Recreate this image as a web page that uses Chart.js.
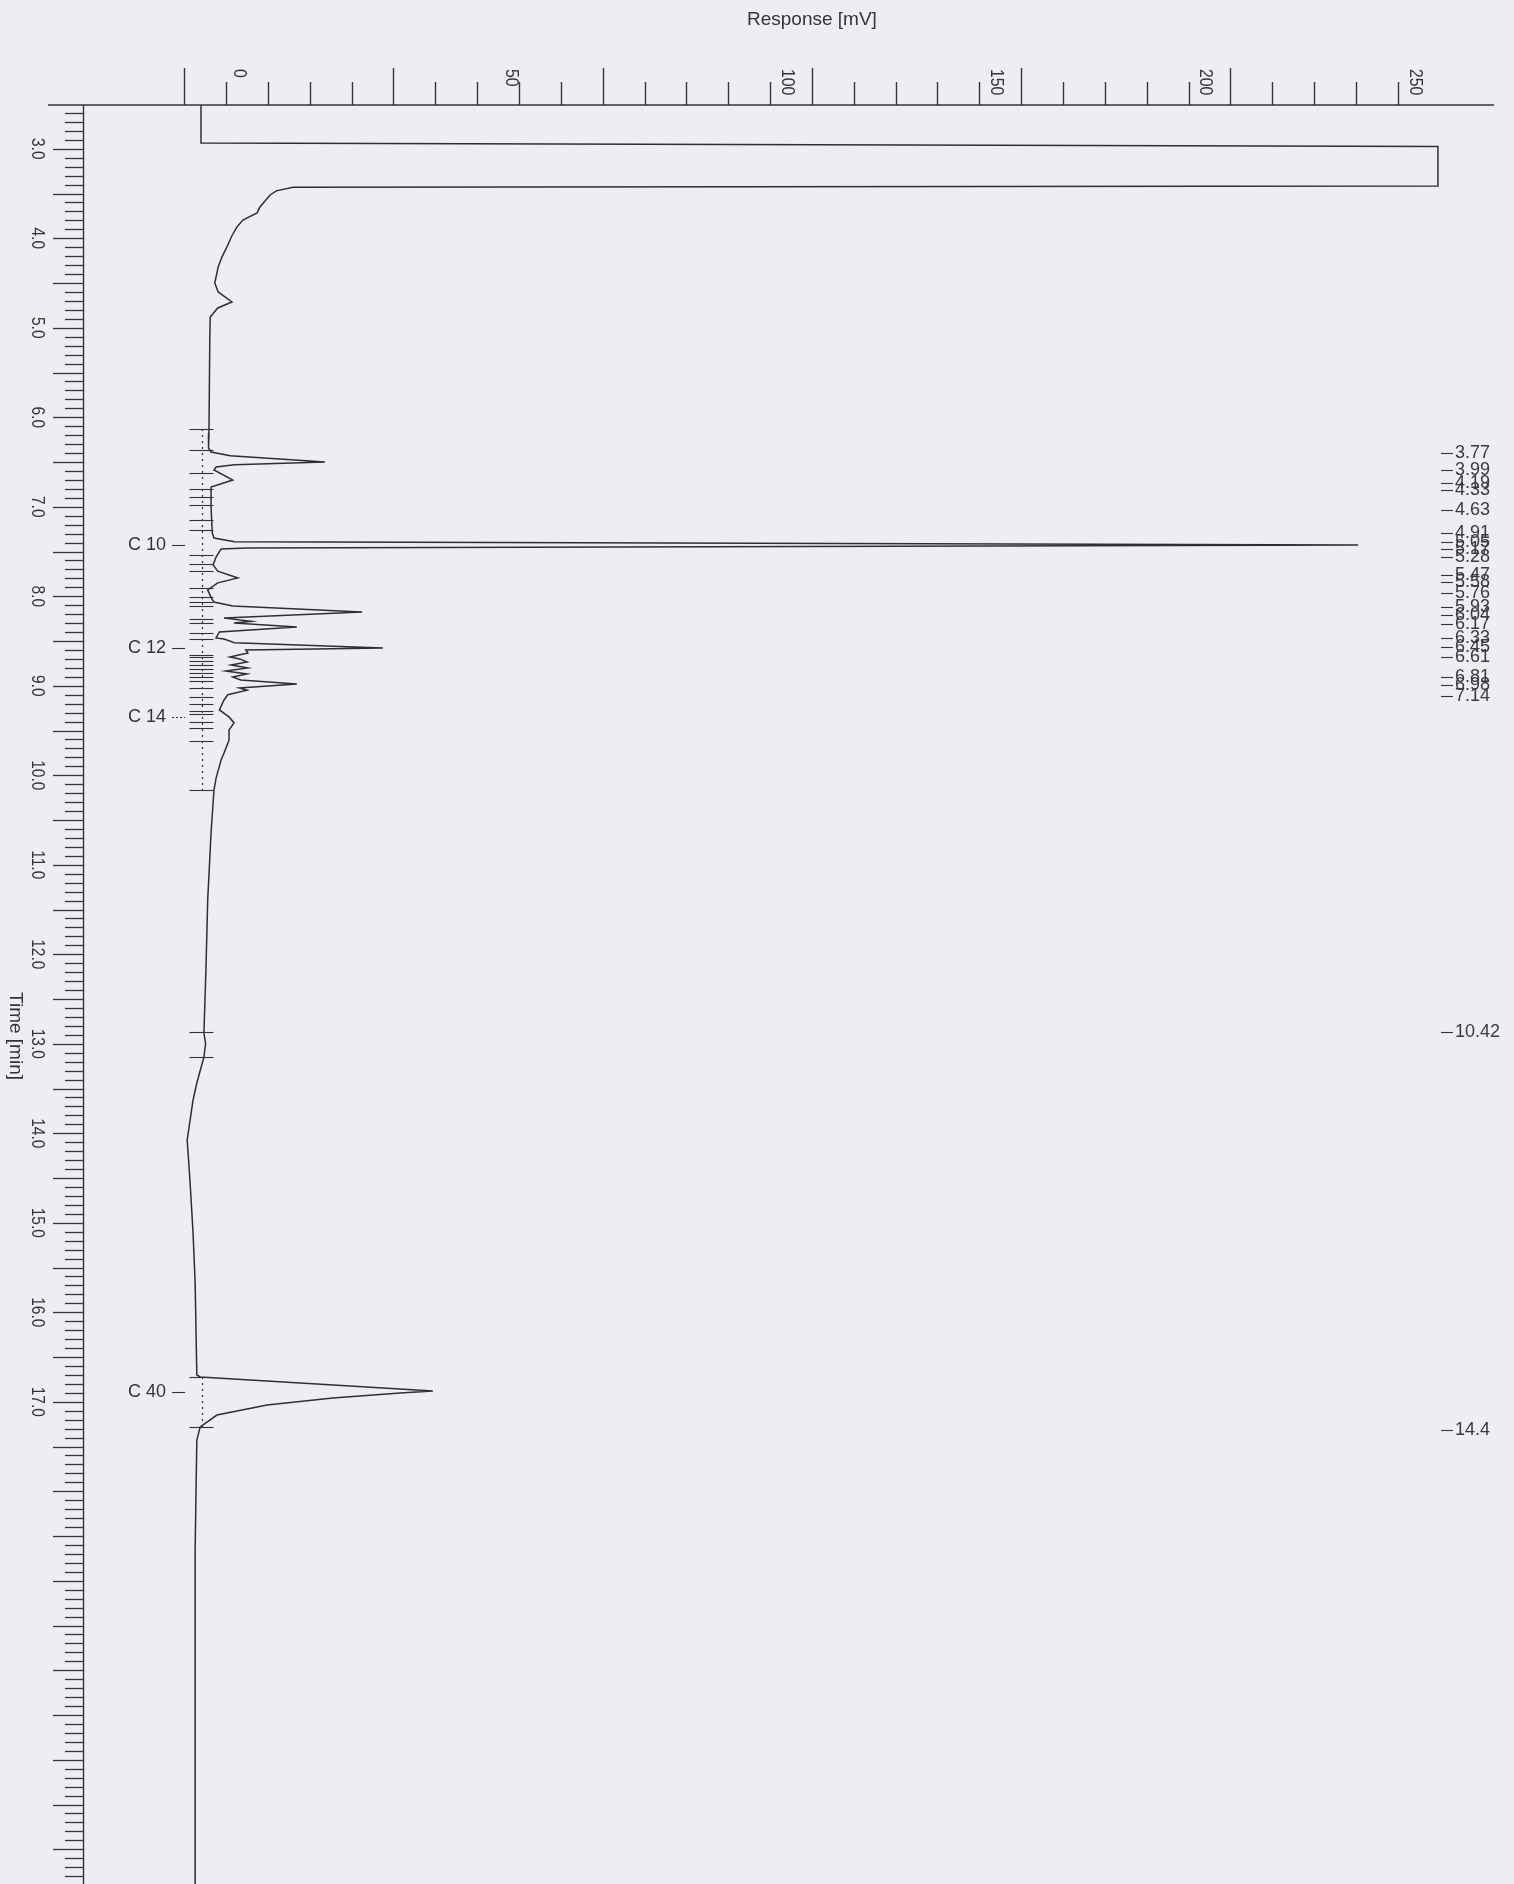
<!DOCTYPE html>
<html>
<head>
<meta charset="utf-8">
<script src="https://cdn.jsdelivr.net/npm/chart.js@4.4.1/dist/chart.umd.min.js"></script>
<style>
html,body{margin:0;padding:0;background:#eceef3;}
canvas{display:block;}
</style>
</head>
<body>
<canvas id="c" width="1514" height="1884"></canvas>
<script>
// ---- data (time in min, response in mV) ----
const traceTime = [2.511, 2.935, 2.975, 3.415, 3.430, 3.470, 3.516, 3.650, 3.717, 3.796, 3.874, 3.980, 4.097, 4.210, 4.321, 4.499, 4.600, 4.712, 4.779, 4.879, 5.136, 6.175, 6.343,
  6.388, 6.430, 6.500, 6.530, 6.556, 6.589, 6.701, 6.779, 7.000, 7.293,
  7.349, 7.390, 7.427, 7.460, 7.472, 7.561, 7.650, 7.720, 7.795, 7.850, 7.929, 8.020, 8.064, 8.108,
  8.175, 8.242, 8.280, 8.298, 8.343, 8.399, 8.466, 8.477, 8.520, 8.577, 8.600,
  8.633, 8.678, 8.700, 8.734, 8.768, 8.801, 8.835, 8.868, 8.902, 8.935, 8.980, 9.025, 9.050, 9.100, 9.159,
  9.270, 9.348, 9.415, 9.494, 9.606, 9.751, 9.829, 10.031, 10.165, 10.645, 11.394, 12.142, 12.880, 13.000, 13.148,
  13.438, 13.628, 14.075, 14.555, 15.114, 15.673, 16.701,
  16.723, 16.790, 16.879, 16.902, 16.958, 17.036, 17.148, 17.282, 17.427, 18.656, 22.388];
const traceResponse = [-46.0, -46.0, 249.6, 249.6, -24.0, -28.0, -29.5, -31.9, -32.6, -36.0, -37.4, -38.7, -39.8, -41.0, -41.9, -42.7, -41.9, -38.6, -42.0, -43.8, -43.9, -44.1, -44.2,
  -43.6, -39.0, -16.4, -38.0, -42.4, -42.9, -38.4, -43.6, -43.6, -43.3,
  -42.9, -38.0, 230.5, -35.0, -41.2, -42.4, -43.1, -42.0, -37.2, -42.0, -44.4, -43.5, -42.9, -38.4,
  -7.5, -40.5, -34.0, -38.1, -23.1, -41.6, -42.4, -40.5, -38.0, -2.5, -35.3,
  -34.8, -39.1, -36.8, -35.0, -38.8, -34.8, -40.1, -35.0, -38.4, -36.5, -23.1, -36.8, -35.0, -39.6, -40.5,
  -41.6, -39.3, -38.1, -39.3, -39.3, -40.5, -41.2, -42.4, -42.9, -43.6, -44.4, -44.8, -45.3, -44.9, -45.3,
  -47.0, -47.9, -49.3, -48.6, -47.9, -47.4, -47.0,
  -46.2, -22.3, 9.4, 1.6, -14.5, -30.2, -42.2, -46.2, -47.0, -47.4, -47.4];

const responseTickValues = [-50, -40, -30, -20, -10, 0, 10, 20, 30, 40, 50, 60, 70, 80, 90, 100, 110, 120, 130, 140, 150, 160, 170, 180, 190, 200, 210, 220, 230, 240];
const responseTickLabels = ['0', '50', '100', '150', '200', '250'];
const responseTickLabelValues = [-31, 34, 100, 150, 200, 250];

const timeTickLabels = ['3.0','4.0','5.0','6.0','7.0','8.0','9.0','10.0','11.0','12.0','13.0','14.0','15.0','16.0','17.0'];
const timeTickLabelValues = [3, 4, 5, 6, 7, 8, 9, 10, 11, 12, 13, 14, 15, 16, 17];

const peakNames = ['C 10', 'C 12', 'C 14', 'C 40'];
const peakNameTimes = [7.427, 8.577, 9.348, 16.888];

const rtLabels = ['3.77','3.99','4.19','4.33','4.63','4.91','5.05','5.17','5.28','5.47','5.58','5.76','5.93','6.04','6.17','6.33','6.45','6.61','6.81','6.98','7.14','10.42','14.4'];
const rtLabelTimes = [6.402, 6.589, 6.734, 6.812, 7.036, 7.293, 7.390, 7.472, 7.557, 7.762, 7.840, 7.963, 8.120, 8.209, 8.310, 8.466, 8.567, 8.678, 8.902, 8.991, 9.114, 12.865, 17.315];

const markerTimes = [6.131, 6.365, 6.622, 6.801, 6.890, 6.980, 7.147, 7.259, 7.538, 7.639, 7.717, 7.907, 8.008, 8.064, 8.108, 8.253, 8.298, 8.410, 8.477, 8.656, 8.678, 8.723, 8.768, 8.812, 8.857, 8.902, 8.947, 9.025, 9.125, 9.203, 9.281, 9.315, 9.405, 9.472, 9.617, 10.165, 12.869, 13.148, 16.723, 17.282];
const baselineStart = [6.131, 16.723];
const baselineEnd = [10.165, 17.282];
const baselineResponse = -45.8;

const FONT = '"Liberation Sans", Arial, sans-serif';
const INK = '#343438';

function rotatedText(ctx, text, x, y, align, squeeze) {
  ctx.save();
  ctx.translate(x, y);
  ctx.rotate(Math.PI / 2);
  ctx.scale(squeeze, 1);
  ctx.textAlign = align; ctx.textBaseline = 'middle';
  ctx.fillText(text, 0, 0);
  ctx.restore();
}

const rulers = {
  id: 'rulers',
  afterDatasetsDraw(chart) {
    const ctx = chart.ctx;
    const xs = chart.scales.x, ys = chart.scales.y;
    const top = chart.chartArea.top, left = chart.chartArea.left;
    ctx.save();
    ctx.strokeStyle = INK;
    ctx.fillStyle = INK;
    ctx.lineWidth = 1.4;
    // top axis line
    ctx.beginPath();
    ctx.moveTo(48, top); ctx.lineTo(chart.chartArea.right, top);
    ctx.stroke();
    // top ticks
    responseTickValues.forEach(v => {
      const x = Math.round(xs.getPixelForValue(v)) + 0.5;
      const len = (v % 50 === 0) ? 37 : 23;
      ctx.beginPath(); ctx.moveTo(x, top); ctx.lineTo(x, top - len); ctx.stroke();
    });
    // top tick labels (rotated clockwise)
    ctx.font = '18px ' + FONT;
    responseTickLabels.forEach((lab, i) => {
      rotatedText(ctx, lab, xs.getPixelForValue(responseTickLabelValues[i]) - 25, 69, 'left', 0.88);
    });
    // x title
    ctx.font = '19px ' + FONT;
    ctx.textAlign = 'center'; ctx.textBaseline = 'middle';
    ctx.fillText('Response [mV]', xs.getPixelForValue(100), 20);

    // left axis line
    ctx.beginPath();
    ctx.moveTo(left + 0.5, top); ctx.lineTo(left + 0.5, chart.height);
    ctx.stroke();
    // left ticks every 0.1 min
    ctx.lineWidth = 1.3;
    for (let k = 26; k <= 223; k++) {
      const t = k / 10;
      if (t < ys.min || t > ys.max) continue;
      const y = Math.round(ys.getPixelForValue(t)) + 0.5;
      const len = (k % 5 === 0) ? 30 : 18;
      ctx.beginPath(); ctx.moveTo(left, y); ctx.lineTo(left - len, y); ctx.stroke();
    }
    // left labels (rotated clockwise)
    ctx.font = '18px ' + FONT;
    timeTickLabels.forEach((lab, i) => {
      rotatedText(ctx, lab, 37, ys.getPixelForValue(timeTickLabelValues[i]), 'center', 0.86);
    });
    // y title
    ctx.font = '19px ' + FONT;
    rotatedText(ctx, 'Time [min]', 15, 1036, 'center', 1);

    // integration baselines (dotted)
    const bx = Math.round(xs.getPixelForValue(baselineResponse)) + 0.5;
    ctx.lineWidth = 1.2;
    ctx.setLineDash([2, 4]);
    baselineStart.forEach((s, i) => {
      ctx.beginPath();
      ctx.moveTo(bx, ys.getPixelForValue(s));
      ctx.lineTo(bx, ys.getPixelForValue(baselineEnd[i]));
      ctx.stroke();
    });
    ctx.setLineDash([]);
    // peak start/end markers
    ctx.lineWidth = 1.1;
    markerTimes.forEach(t => {
      const y = Math.round(ys.getPixelForValue(t)) + 0.5;
      ctx.beginPath(); ctx.moveTo(bx - 13, y); ctx.lineTo(bx + 11, y); ctx.stroke();
    });

    // peak names
    ctx.font = '18px ' + FONT;
    peakNames.forEach((n, i) => {
      const y = ys.getPixelForValue(peakNameTimes[i]);
      ctx.textAlign = 'right'; ctx.textBaseline = 'middle';
      ctx.fillText(n, 166, y);
      if (n === 'C 14') ctx.setLineDash([2, 2]);
      ctx.beginPath(); ctx.moveTo(172, Math.round(y) + 0.5); ctx.lineTo(185, Math.round(y) + 0.5); ctx.stroke();
      ctx.setLineDash([]);
    });

    // retention time labels on the right
    ctx.fillStyle = '#3a3a3e';
    rtLabels.forEach((lab, i) => {
      const y = ys.getPixelForValue(rtLabelTimes[i]);
      ctx.beginPath(); ctx.moveTo(1441, Math.round(y) + 0.5); ctx.lineTo(1453, Math.round(y) + 0.5); ctx.stroke();
      ctx.textAlign = 'left'; ctx.textBaseline = 'middle';
      ctx.fillText(lab, 1455, y);
    });
    ctx.restore();
  }
};

new Chart(document.getElementById('c'), {
  type: 'scatter',
  data: {
    datasets: [{
      data: traceTime.map((t, i) => ({ x: traceResponse[i], y: t })),
      showLine: true,
      pointRadius: 0,
      borderColor: '#2f2f33',
      borderWidth: 1.5,
      tension: 0
    }]
  },
  options: {
    responsive: false,
    animation: false,
    devicePixelRatio: 1,
    layout: { padding: { left: 83, top: 105, right: 20, bottom: 0 } },
    scales: {
      x: { type: 'linear', min: -74.2, max: 263, display: false },
      y: { type: 'linear', min: 2.511, max: 22.388, reverse: true, display: false }
    },
    plugins: { legend: { display: false }, tooltip: { enabled: false } }
  },
  plugins: [rulers]
});
</script>
</body>
</html>
